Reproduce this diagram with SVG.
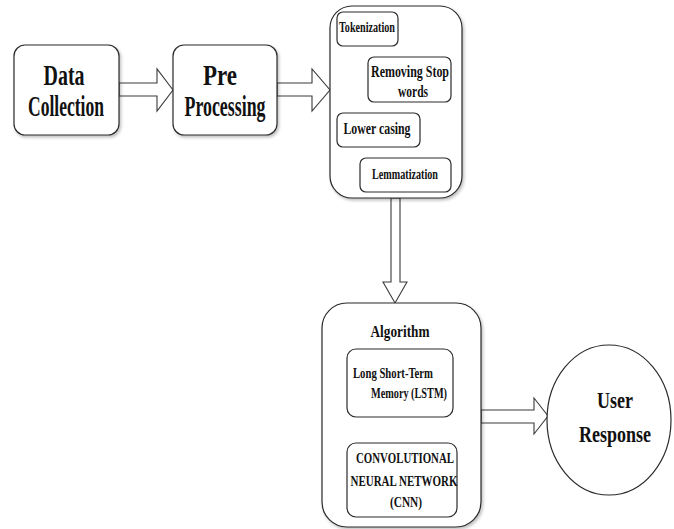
<svg xmlns="http://www.w3.org/2000/svg" width="674" height="529" viewBox="0 0 674 529">
<defs>
<filter id="sh" x="-10%" y="-10%" width="130%" height="130%">
<feDropShadow dx="1.5" dy="2" stdDeviation="1.5" flood-color="#000" flood-opacity="0.25"/>
</filter>
<style>
.box{fill:#fff;stroke:#2b2b2b;stroke-width:1.2}
.arr{fill:#fff;stroke:#3a3a3a;stroke-width:1.1;stroke-linejoin:miter}
text{font-family:"Liberation Serif","Times New Roman",serif;font-weight:bold;fill:#111;text-anchor:middle}
.big{font-size:29px}
.ur{font-size:24px}
.mid{font-size:17px}
.sm{font-size:15px}
.xs{font-size:14px}
</style>
</defs>
<rect width="674" height="529" fill="#fff"/>
<g id="connectors">
<path class="arr" d="M119,83 H157 V69 L173,90 L157,111 V96 H119 Z"/>
<path class="arr" d="M277,83 H312 V69 L330,90 L312,111 V96 H277 Z"/>
<path class="arr" d="M391,198 V282 H383 L395,303 L407,282 H400 V198 Z"/>
<path class="arr" d="M481,410 H534 V398 L548,416 L534,434 V423 H481 Z"/>
</g>
<g id="data-collection">
<rect class="box" x="14" y="45" width="105" height="90" rx="11" filter="url(#sh)"/>
<text class="big" x="64" y="85" textLength="41" lengthAdjust="spacingAndGlyphs">Data</text>
<text class="big" x="66" y="116" textLength="76" lengthAdjust="spacingAndGlyphs">Collection</text>
</g>
<g id="pre-processing">
<rect class="box" x="173" y="45" width="104" height="90" rx="11" filter="url(#sh)"/>
<text class="big" x="220" y="85" textLength="34" lengthAdjust="spacingAndGlyphs">Pre</text>
<text class="big" x="225" y="116" textLength="81" lengthAdjust="spacingAndGlyphs">Processing</text>
</g>
<g id="preprocessing-steps">
<rect class="box" x="330" y="6" width="132" height="192" rx="22" filter="url(#sh)"/>
<g id="tokenization">
<rect class="box" x="337" y="12" width="61" height="34" rx="6"/>
<text class="xs" x="367" y="32" textLength="56" lengthAdjust="spacingAndGlyphs">Tokenization</text>
</g>
<g id="removing-stop-words">
<rect class="box" x="368" y="57" width="83" height="45" rx="6"/>
<text class="mid" x="410" y="77" textLength="78" lengthAdjust="spacingAndGlyphs">Removing Stop</text>
<text class="mid" x="413" y="97" textLength="30" lengthAdjust="spacingAndGlyphs">words</text>
</g>
<g id="lower-casing">
<rect class="box" x="337" y="113" width="83" height="34" rx="6"/>
<text class="mid" x="377" y="134" textLength="67" lengthAdjust="spacingAndGlyphs">Lower casing</text>
</g>
<g id="lemmatization">
<rect class="box" x="360" y="158" width="91" height="34" rx="6"/>
<text class="sm" x="405" y="179" textLength="66" lengthAdjust="spacingAndGlyphs">Lemmatization</text>
</g>
</g>
<g id="algorithm">
<rect class="box" x="322" y="303" width="159" height="224" rx="25" filter="url(#sh)"/>
<text class="mid" x="400" y="337" textLength="59" lengthAdjust="spacingAndGlyphs">Algorithm</text>
<g id="lstm">
<rect class="box" x="347" y="349" width="106" height="68" rx="9"/>
<text class="sm" x="393" y="378" textLength="80" lengthAdjust="spacingAndGlyphs">Long Short-Term</text>
<text class="sm" x="409" y="398" textLength="76" lengthAdjust="spacingAndGlyphs">Memory (LSTM)</text>
</g>
<g id="cnn">
<rect class="box" x="347" y="443" width="110" height="74" rx="9"/>
<text class="sm" x="405" y="463" textLength="98" lengthAdjust="spacingAndGlyphs">CONVOLUTIONAL</text>
<text class="sm" x="404" y="486" textLength="107" lengthAdjust="spacingAndGlyphs">NEURAL NETWORK</text>
<text class="sm" x="406" y="507" textLength="32" lengthAdjust="spacingAndGlyphs">(CNN)</text>
</g>
</g>
<g id="user-response">
<ellipse class="box" cx="609" cy="420" rx="62" ry="75"/>
<text class="ur" x="615" y="408" textLength="36" lengthAdjust="spacingAndGlyphs">User</text>
<text class="ur" x="615" y="442" textLength="72" lengthAdjust="spacingAndGlyphs">Response</text>
</g>
</svg>
